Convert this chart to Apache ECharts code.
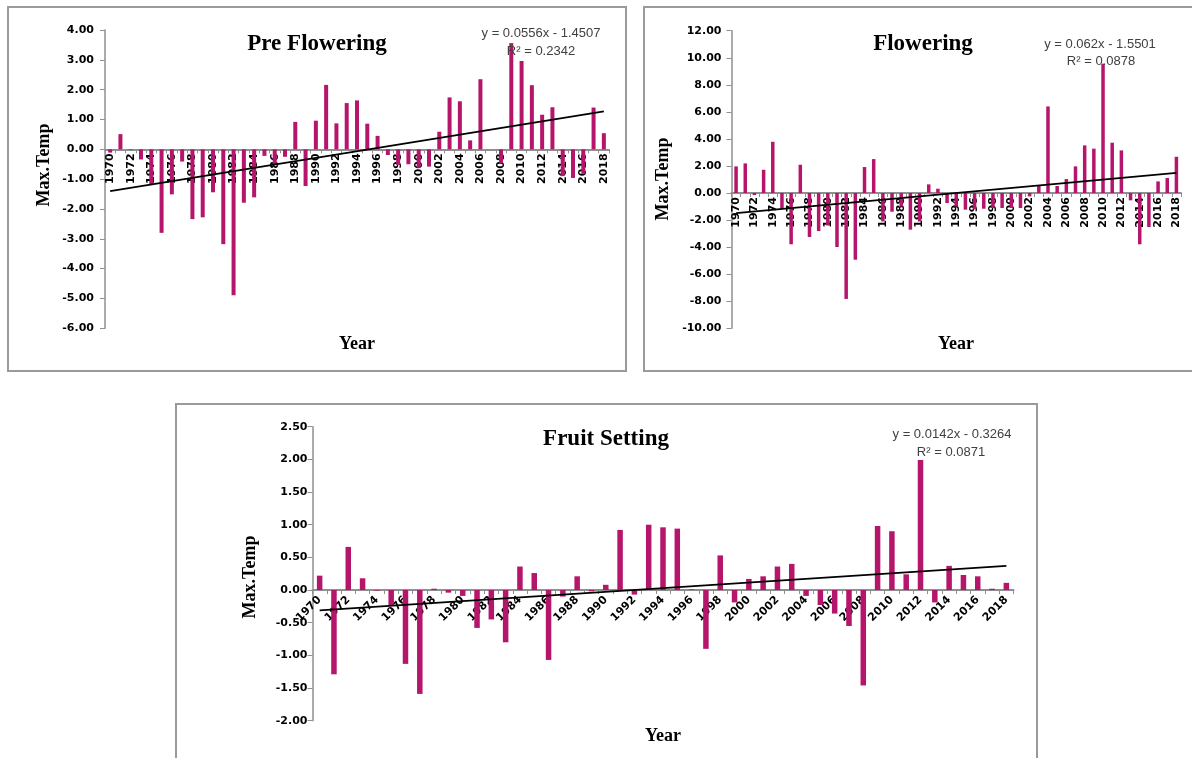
<!DOCTYPE html>
<html>
<head>
<meta charset="utf-8">
<script src="https://cdn.jsdelivr.net/npm/echarts@6/dist/echarts.min.js"></script>
<style>
html,body{margin:0;padding:0;background:#fff;}
#c{width:1192px;height:758px;}
</style>
</head>
<body>
<div id="c"></div>
<script>
var years = ['1970','1971','1972','1973','1974','1975','1976','1977','1978','1979',
'1980','1981','1982','1983','1984','1985','1986','1987','1988','1989',
'1990','1991','1992','1993','1994','1995','1996','1997','1998','1999',
'2000','2001','2002','2003','2004','2005','2006','2007','2008','2009',
'2010','2011','2012','2013','2014','2015','2016','2017','2018'];

var preFlowering = [-0.11,0.51,-0.02,-0.34,-1.20,-2.80,-1.51,-0.41,-2.34,-2.28,
-1.44,-3.18,-4.89,-1.79,-1.61,-0.22,-0.50,-0.25,0.92,-1.23,
0.96,2.16,0.87,1.55,1.64,0.86,0.45,-0.19,-0.52,-0.50,
-0.62,-0.58,0.59,1.74,1.61,0.30,2.35,0.00,-0.46,3.56,
2.96,2.15,1.16,1.41,-0.90,-0.96,-0.82,1.40,0.54];

var flowering = [1.97,2.19,-0.15,1.72,3.79,-1.16,-3.79,2.09,-3.25,-2.81,
-2.40,-3.99,-7.83,-4.93,1.92,2.51,-2.10,-1.38,-1.00,-2.71,
-2.10,0.64,0.32,-0.74,-1.00,-1.23,-1.20,-1.16,-1.10,-1.11,
-1.10,-1.11,-0.25,0.52,6.40,0.52,1.03,1.97,3.52,3.28,
9.56,3.72,3.15,-0.54,-3.79,-2.51,0.86,1.11,2.68];

var fruitSetting = [0.22,-1.29,0.66,0.18,-0.01,-0.23,-1.13,-1.59,0.02,-0.04,
-0.09,-0.58,-0.45,-0.80,0.36,0.26,-1.07,-0.10,0.21,-0.02,
0.08,0.92,-0.07,1.00,0.96,0.94,0.01,-0.90,0.53,-0.19,
0.17,0.21,0.36,0.40,-0.09,-0.23,-0.36,-0.55,-1.46,0.98,
0.90,0.24,1.99,-0.19,0.37,0.23,0.21,0.02,0.11];

// trend line end values (first and last year)
var preTrend = [-1.40, 1.27];
var flowTrend = [-1.49, 1.49];
var fruitTrend = [-0.31, 0.37];

var titles = ['Pre Flowering', 'Flowering', 'Fruit Setting'];
var equations = [['y = 0.0556x - 1.4507', 'R\u00b2 = 0.2342'],
                 ['y = 0.062x - 1.5501', 'R\u00b2 = 0.0878'],
                 ['y = 0.0142x - 0.3264', 'R\u00b2 = 0.0871']];
var yRanges = [[-6, 4, 1], [-10, 12, 2], [-2, 2.5, 0.5]];

var BAR = '#B5156A';
var AXIS = '#8f8f8f';

var grids = [
  { left: 105, top: 30, width: 504, height: 298.3 },
  { left: 731.5, top: 30.7, width: 449.5, height: 297.6 },
  { left: 312.5, top: 426.7, width: 701, height: 294 }
];

// distance from the bottom of each grid to its zero line
function zeroOffset(gi) {
  var r = yRanges[gi];
  return -grids[gi].height * (0 - r[0]) / (r[1] - r[0]);
}

function xAxis(gi, rot, margin) {
  return {
    type: 'category', gridIndex: gi, data: years, position: 'bottom', z: 1,
    offset: zeroOffset(gi),
    axisLine: { onZero: false, lineStyle: { color: AXIS, width: 2 } },
    axisTick: { show: true, interval: 0, length: 4, lineStyle: { color: AXIS, width: 1 } },
    axisLabel: { interval: 1, rotate: rot, margin: margin, color: '#000',
      fontFamily: 'DejaVu Sans', fontWeight: 'bold', fontSize: 11 },
    splitLine: { show: false }
  };
}
function yAxis(gi, margin) {
  var r = yRanges[gi];
  return {
    type: 'value', gridIndex: gi, min: r[0], max: r[1], interval: r[2], z: 1,
    axisLine: { show: true, lineStyle: { color: AXIS, width: 1.5 } },
    axisTick: { show: true, length: 5, lineStyle: { color: AXIS, width: 1 } },
    axisLabel: { margin: margin, color: '#000', fontFamily: 'DejaVu Sans', fontWeight: 'bold', fontSize: 11,
      formatter: function (v) { return v.toFixed(2); } },
    splitLine: { show: false }
  };
}
function bars(i, data, w) {
  return { type: 'bar', xAxisIndex: i, yAxisIndex: i, data: data, barWidth: w,
    itemStyle: { color: BAR }, silent: true, animation: false, z: 10 };
}
function trend(i, t) {
  return { type: 'line', xAxisIndex: i, yAxisIndex: i,
    data: [[0, t[0]], [years.length - 1, t[1]]],
    symbol: 'none', lineStyle: { color: '#000', width: 1.8 }, z: 12, animation: false, silent: true };
}

function txt(x, y, s, font, fill, rot) {
  return { type: 'text', x: x, y: y, rotation: rot || 0, z: 20, silent: true,
    style: { text: s, font: font, fill: fill || '#000', align: 'center', verticalAlign: 'middle' } };
}
function rect(x1, y1, x2, y2) {
  return { type: 'rect', z: 0, silent: true, shape: { x: x1, y: y1, width: x2 - x1, height: y2 - y1 },
    style: { fill: 'none', stroke: '#9a9a9a', lineWidth: 2 } };
}

var TF = "bold 23px 'Liberation Serif'";
var AF = "bold 18px 'Liberation Serif'";
var EF = "13px 'Liberation Sans'";
var EC = '#404040';

var option = {
  animation: false,
  grid: grids,
  xAxis: [xAxis(0, 90, 4), xAxis(1, 90, 4), xAxis(2, 45, 8)],
  yAxis: [yAxis(0, 11), yAxis(1, 10), yAxis(2, 5)],
  series: [
    bars(0, preFlowering, 4), bars(1, flowering, 3.5), bars(2, fruitSetting, 5.5),
    trend(0, preTrend), trend(1, flowTrend), trend(2, fruitTrend)
  ],
  graphic: [
    rect(8, 7, 626, 371),
    rect(644, 7, 1200, 371),
    rect(176, 404, 1037, 780),
    txt(317, 44, titles[0], TF),
    txt(923, 44, titles[1], TF),
    txt(606, 439, titles[2], TF),
    txt(541, 33, equations[0][0], EF, EC),
    txt(541, 51, equations[0][1], EF, EC),
    txt(1100, 44, equations[1][0], EF, EC),
    txt(1101, 61, equations[1][1], EF, EC),
    txt(952, 434, equations[2][0], EF, EC),
    txt(951, 452, equations[2][1], EF, EC),
    txt(44, 165, 'Max.Temp', AF, '#000', Math.PI / 2),
    txt(663, 179, 'Max.Temp', AF, '#000', Math.PI / 2),
    txt(250, 577, 'Max.Temp', AF, '#000', Math.PI / 2),
    txt(357, 344, 'Year', AF),
    txt(956, 344, 'Year', AF),
    txt(663, 736, 'Year', AF)
  ]
};
var chart = echarts.init(document.getElementById('c'), null, { renderer: 'canvas' });
chart.setOption(option);
</script>
</body>
</html>
